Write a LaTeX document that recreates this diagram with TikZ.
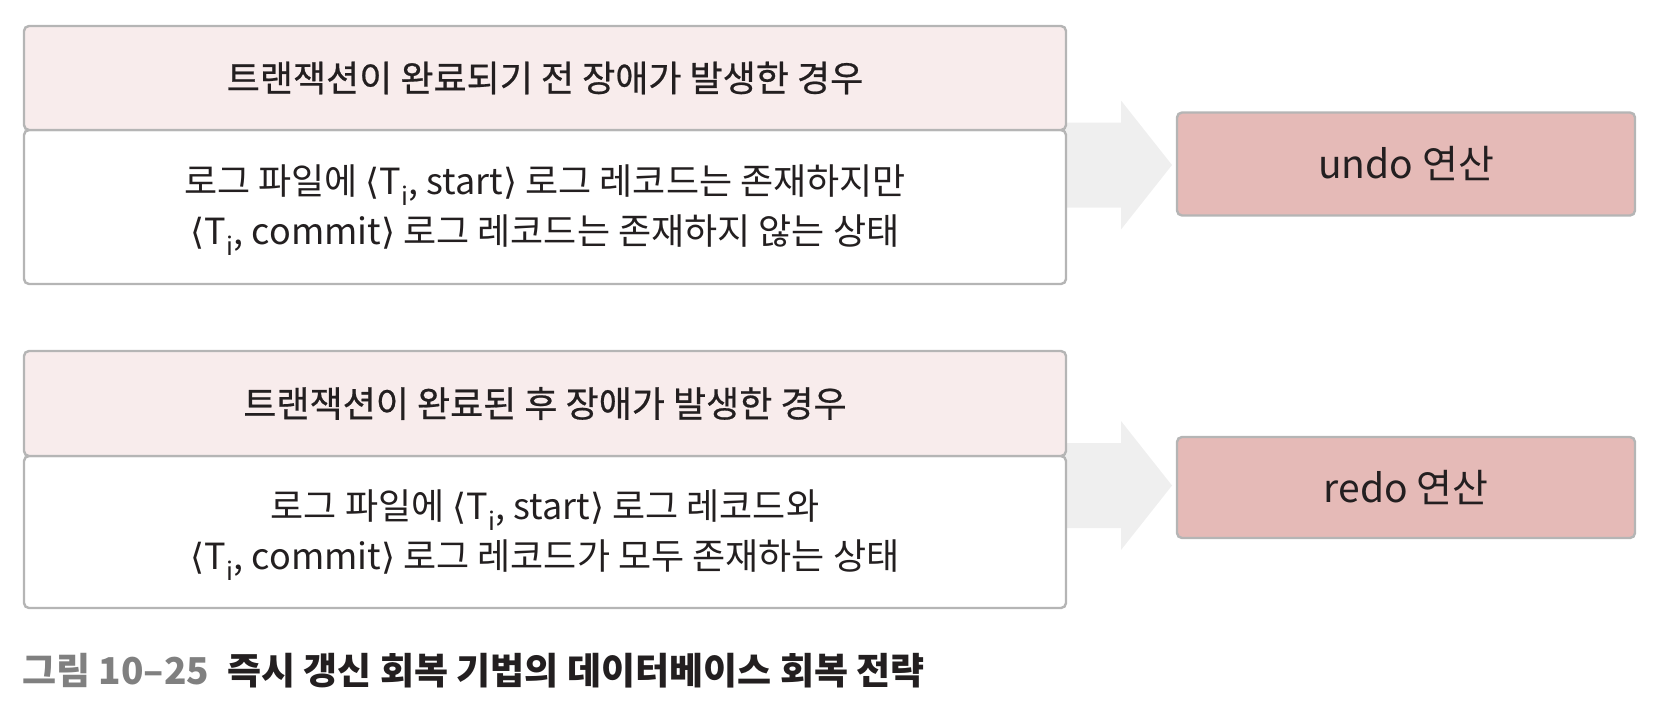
\documentclass[tikz,border=0pt]{standalone}
\usepackage{fontspec}
\setmainfont{Noto Sans CJK KR}
\newfontfamily\medfont{Noto Sans CJK KR}[FakeBold=0.6]
\newfontfamily\symfont{DejaVu Sans}
\usetikzlibrary{calc}
\definecolor{hdrfill}{HTML}{F8ECEC}
\definecolor{boxline}{HTML}{B5B5B5}
\definecolor{resfill}{HTML}{E5BAB7}
\definecolor{arrowc}{HTML}{EFEFEF}
\definecolor{txt}{HTML}{231F20}
\definecolor{capgray}{HTML}{808080}
\newcommand{\la}{{\symfont ⟨}}
\newcommand{\ra}{{\symfont ⟩}}
\newcommand{\Ti}{T\textsubscript{i}}
\tikzset{
  boxbase/.style={draw=boxline, line width=2.4pt, rounded corners=5pt, inner sep=0pt,
    text=txt, align=center, font=\fontsize{36}{50}\selectfont},
  hdrbox/.style={boxbase, fill=hdrfill, minimum width=1042pt, minimum height=104pt,
    font=\fontsize{36}{48}\selectfont\medfont},
  bodybox/.style={boxbase, fill=white, minimum width=1042pt},
  resbox/.style={boxbase, fill=resfill, minimum width=458pt, minimum height=103pt,
    font=\fontsize{39}{48}\selectfont},
  blockarrow/.style={fill=arrowc, draw=none}
}
\begin{document}
\begin{tikzpicture}[x=1pt,y=-1pt]
\useasboundingbox (0,0) rectangle (1664,704);
% arrows (behind boxes)
\coordinate (a1s) at (1066,165);
\coordinate (a1t) at (1172,165);
\fill[blockarrow] ($(a1s)+(0,-42.5)$) -- ($(a1s)+(55,-42.5)$) -- ($(a1s)+(55,-64.5)$) -- (a1t)
  -- ($(a1s)+(55,64.5)$) -- ($(a1s)+(55,42.5)$) -- ($(a1s)+(0,42.5)$) -- cycle;
\coordinate (a2s) at (1066,485.5);
\coordinate (a2t) at (1172,485.5);
\fill[blockarrow] ($(a2s)+(0,-42.5)$) -- ($(a2s)+(55,-42.5)$) -- ($(a2s)+(55,-64.5)$) -- (a2t)
  -- ($(a2s)+(55,64.5)$) -- ($(a2s)+(55,42.5)$) -- ($(a2s)+(0,42.5)$) -- cycle;
% top group
\node[bodybox, minimum height=154pt] (b1) at (545,207) {};
\node[inner sep=0pt, text=txt, align=center, font=\fontsize{36}{50}\selectfont] (t1) at (545,210)
  {로그 파일에 \la\Ti, start\ra{} 로그 레코드는 존재하지만\\
   \la\Ti, commit\ra{} 로그 레코드는 존재하지 않는 상태};
\node[hdrbox] (h1) at (545,78) {트랜잭션이 완료되기 전 장애가 발생한 경우};
\node[resbox] (undo) at (1406,164) {undo 연산};
% bottom group
\node[bodybox, minimum height=152pt] (b2) at (545,532) {};
\node[inner sep=0pt, text=txt, align=center, font=\fontsize{36}{50}\selectfont] (t2) at (545,535.5)
  {로그 파일에 \la\Ti, start\ra{} 로그 레코드와\\
   \la\Ti, commit\ra{} 로그 레코드가 모두 존재하는 상태};
\node[hdrbox, minimum height=105pt] (h2) at (545,403.5) {트랜잭션이 완료된 후 장애가 발생한 경우};
\node[resbox, minimum height=101pt] (redo) at (1406,487.5) {redo 연산};
% caption
\node[anchor=west, inner sep=0pt, font=\fontsize{37}{40}\selectfont\bfseries] (cap) at (22,671)
  {\textcolor{capgray}{그림 10–25}\hspace{18pt}\textcolor{txt}{즉시 갱신 회복 기법의 데이터베이스 회복 전략}};
\end{tikzpicture}
\end{document}
